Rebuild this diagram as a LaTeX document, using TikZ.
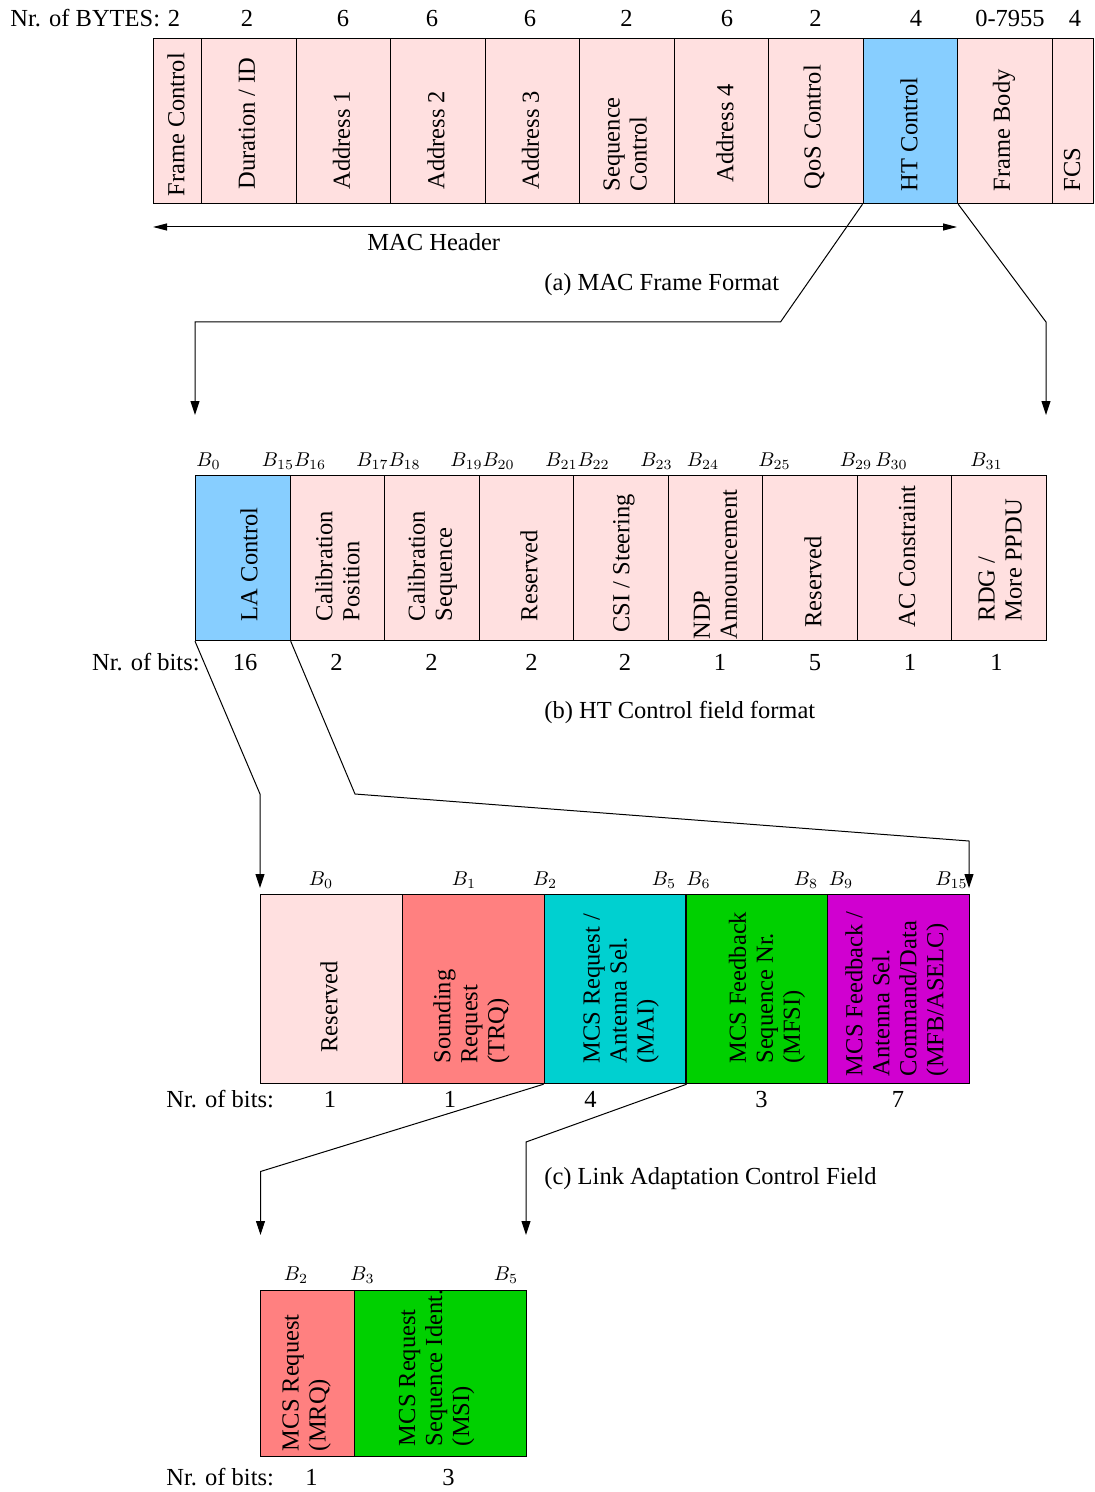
\documentclass[tikz,border=0pt]{standalone}
\usepackage[no-math]{fontspec}
\setmainfont{Liberation Serif}
\usetikzlibrary{arrows.meta}
\definecolor{pinkf}{RGB}{255,224,224}
\definecolor{ltblue}{RGB}{135,206,255}
\definecolor{pinkdark}{RGB}{255,128,128}
\definecolor{cyantwo}{RGB}{0,208,208}
\definecolor{greentwo}{RGB}{0,208,0}
\definecolor{magentatwo}{RGB}{208,0,208}
\newcommand{\mainsz}{\fontsize{12.25pt}{13.5pt}\selectfont}
\tikzset{
  field/.style={draw=black, line width=0.6pt, inner sep=0pt, anchor=north west, minimum height=82.5pt},
  vtext/.style={rotate=90, anchor=west, inner sep=0pt, align=left, font=\mainsz},
  lbl/.style={anchor=base, inner sep=0pt, font=\mainsz},
  blbl/.style={anchor=base west, inner sep=0pt, font=\fontsize{10pt}{12pt}\selectfont},
  conn/.style={line width=0.5pt},
  arrowline/.style={-{Triangle[length=7pt,width=4.5pt]}}
}
\begin{document}
\begin{tikzpicture}[x=0.5pt,y=-0.5pt]
\useasboundingbox (0,0) rectangle (1094,1492);

% ---------------- (a) MAC frame
\node[lbl, anchor=base west] (nb) at (10,27) {Nr. of BYTES:};
\node[lbl] (n1) at (174,27) {2};
\node[lbl] (n2) at (247,27) {2};
\node[lbl] (n3) at (343,27) {6};
\node[lbl] (n4) at (432,27) {6};
\node[lbl] (n5) at (530,27) {6};
\node[lbl] (n6) at (626.5,27) {2};
\node[lbl] (n7) at (727,27) {6};
\node[lbl] (n8) at (815.5,27) {2};
\node[lbl] (n9) at (916,27) {4};
\node[lbl] (n10) at (1010,27) {0-7955};
\node[lbl] (n11) at (1075,27) {4};

\node[field, fill=pinkf, minimum width=24pt] (fc) at (153,38) {};
\node[field, fill=pinkf, minimum width=47.25pt] (dur) at (201,38) {};
\node[field, fill=pinkf, minimum width=47.25pt] (ad1) at (295.5,38) {};
\node[field, fill=pinkf, minimum width=47.25pt] (ad2) at (390,38) {};
\node[field, fill=pinkf, minimum width=47.25pt] (ad3) at (484.5,38) {};
\node[field, fill=pinkf, minimum width=47.25pt] (seqc) at (579,38) {};
\node[field, fill=pinkf, minimum width=47.25pt] (ad4) at (673.5,38) {};
\node[field, fill=pinkf, minimum width=47.25pt] (qos) at (768,38) {};
\node[field, fill=ltblue, minimum width=47.25pt] (ht) at (862.5,38) {};
\node[field, fill=pinkf, minimum width=47.25pt] (fbody) at (957,38) {};
\node[field, fill=pinkf, minimum width=20.75pt] (fcs) at (1051.5,38) {};

\node[vtext] (tfc) at (176,197) {Frame Control};
\node[vtext] (tdur) at (247,190) {Duration / ID};
\node[vtext] (tad1) at (341.5,190) {Address 1};
\node[vtext] (tad2) at (436,190) {Address 2};
\node[vtext] (tad3) at (530.5,190) {Address 3};
\node[vtext] (tseqc) at (625,191.5) {Sequence\\Control};
\node[vtext] (tad4) at (725,183) {Address 4};
\node[vtext] (tqos) at (814,190) {QoS Control};
\node[vtext] (tht) at (909,191.5) {HT Control};
\node[vtext] (tfb) at (1004,191.5) {Frame Body};
\node[vtext] (tfcs) at (1072,191.5) {FCS};

\coordinate (mh1) at (153,227);
\coordinate (mh2) at (957,227);
\draw[conn, {Triangle[length=7pt,width=3.5pt]}-{Triangle[length=7pt,width=3.5pt]}] (mh1) -- (mh2);
\node[lbl, anchor=base west] (mach) at (367,251) {MAC Header};
\node[lbl, anchor=base west] (capa) at (544,291) {(a) MAC Frame Format};

\coordinate (ea) at (195,415);
\coordinate (eb) at (1046,415);
\draw[conn, arrowline] (ht.south west) -- (780.5,322) -- (195,322) -- (ea);
\draw[conn, arrowline] (ht.south east) -- (1046,322) -- (eb);

% ---------------- (b) HT control
\node[blbl] (b0) at (196,466) {$B_{0}$};
\node[blbl] (b15) at (261.5,466) {$B_{15}B_{16}$};
\node[blbl] (b17) at (356,466) {$B_{17}B_{18}$};
\node[blbl] (b19) at (450,466) {$B_{19}B_{20}$};
\node[blbl] (b21) at (545,466) {$B_{21}B_{22}$};
\node[blbl] (b23) at (640,466) {$B_{23}$};
\node[blbl] (b24) at (686.5,466) {$B_{24}$};
\node[blbl] (b25) at (758,466) {$B_{25}$};
\node[blbl] (b29) at (839.5,466) {$B_{29}$};
\node[blbl] (b30) at (875,466) {$B_{30}$};
\node[blbl] (b31) at (970,466) {$B_{31}$};

\node[field, fill=ltblue, minimum width=47.25pt] (la) at (195,475) {};
\node[field, fill=pinkf, minimum width=47.25pt] (cpos) at (289.5,475) {};
\node[field, fill=pinkf, minimum width=47.25pt] (cseq) at (384,475) {};
\node[field, fill=pinkf, minimum width=47.25pt] (resa) at (478.5,475) {};
\node[field, fill=pinkf, minimum width=47.25pt] (csi) at (573,475) {};
\node[field, fill=pinkf, minimum width=47.25pt] (ndp) at (667.5,475) {};
\node[field, fill=pinkf, minimum width=47.25pt] (resb) at (762,475) {};
\node[field, fill=pinkf, minimum width=47.25pt] (acc) at (856.5,475) {};
\node[field, fill=pinkf, minimum width=47.25pt] (rdg) at (951,475) {};

\node[vtext] (tla) at (249,621.5) {LA Control};
\node[vtext] (tcpos) at (337.5,621.5) {Calibration\\Position};
\node[vtext] (tcseq) at (432.5,621.5) {Calibration\\Sequence};
\node[vtext] (tresa) at (529,621.5) {Reserved};
\node[vtext] (tcsi) at (624,633) {CSI / Steering};
\node[vtext] (tndp) at (715.5,640) {NDP\\Announcement};
\node[vtext] (tresb) at (813,628) {Reserved};
\node[vtext] (tacc) at (907,628) {AC Constraint};
\node[vtext] (trdg) at (1000,621.5) {RDG /\\More PPDU};

\node[lbl, anchor=base east] (nbb) at (200,670) {Nr. of bits:};
\node[lbl] (m1) at (245,670) {16};
\node[lbl] (m2) at (336.5,670) {2};
\node[lbl] (m3) at (431.5,670) {2};
\node[lbl] (m4) at (531.5,670) {2};
\node[lbl] (m5) at (625,670) {2};
\node[lbl] (m6) at (720,670) {1};
\node[lbl] (m7) at (815,670) {5};
\node[lbl] (m8) at (910,670) {1};
\node[lbl] (m9) at (996.5,670) {1};

\node[lbl, anchor=base west] (capb) at (544,718) {(b) HT Control field format};

\coordinate (ec) at (260,888);
\coordinate (ed) at (969,888);
\draw[conn, arrowline] (la.south west) -- (260,794) -- (ec);
\draw[conn, arrowline] (la.south east) -- (355,794) -- (969,841) -- (ed);

% ---------------- (c) Link adaptation control
\node[blbl] (c0) at (308.5,885) {$B_{0}$};
\node[blbl] (c1) at (451.5,885) {$B_{1}$};
\node[blbl] (c2) at (532.5,885) {$B_{2}$};
\node[blbl] (c5) at (651.5,885) {$B_{5}$};
\node[blbl] (c6) at (686,885) {$B_{6}$};
\node[blbl] (c8) at (793.5,885) {$B_{8}$};
\node[blbl] (c9) at (828.5,885) {$B_{9}$};
\node[blbl] (c15) at (935,885) {$B_{15}$};

\node[field, fill=pinkf, minimum width=70.9pt, minimum height=94.5pt] (resc) at (260,894) {};
\node[field, fill=pinkdark, minimum width=70.9pt, minimum height=94.5pt] (trq) at (401.8,894) {};
\node[field, fill=cyantwo, minimum width=70.9pt, minimum height=94.5pt] (mai) at (543.6,894) {};
\node[field, fill=greentwo, minimum width=70.9pt, minimum height=94.5pt] (mfsi) at (685.4,894) {};
\node[field, fill=magentatwo, minimum width=70.9pt, minimum height=94.5pt] (mfb) at (827.2,894) {};

\node[vtext] (tresc) at (329,1053) {Reserved};
\node[vtext] (ttrq) at (471.5,1064) {Sounding\\Request\\(TRQ)};
\node[vtext] (tmai) at (621,1064) {MCS Request /\\Antenna Sel.\\(MAI)};
\node[vtext] (tmfsi) at (767,1064) {MCS Feedback\\Sequence Nr.\\(MFSI)};
\node[vtext] (tmfb) at (897,1076.5) {MCS Feedback /\\Antenna Sel.\\Command/Data\\(MFB/ASELC)};

\node[lbl, anchor=base west] (nbc) at (166,1107) {Nr. of bits:};
\node[lbl] (k1) at (330,1107) {1};
\node[lbl] (k2) at (450,1107) {1};
\node[lbl] (k3) at (590.5,1107) {4};
\node[lbl] (k4) at (761.5,1107) {3};
\node[lbl] (k5) at (898,1107) {7};

\node[lbl, anchor=base west] (capc) at (544,1184) {(c) Link Adaptation Control Field};

\coordinate (ee) at (260.5,1235);
\coordinate (ef) at (526,1235);
\draw[conn, arrowline] (mai.south west) -- (260.5,1171.5) -- (ee);
\draw[conn, arrowline] (mai.south east) -- (526,1142) -- (ef);

% ---------------- (d) MCS request
\node[blbl] (d2) at (283.5,1280) {$B_{2}$};
\node[blbl] (d3) at (350,1280) {$B_{3}$};
\node[blbl] (d5) at (493.5,1280) {$B_{5}$};

\node[field, fill=pinkdark, minimum width=47pt, minimum height=82.75pt] (mrq) at (260,1290) {};
\node[field, fill=greentwo, minimum width=86pt, minimum height=82.75pt] (msi) at (354,1290) {};

\node[vtext] (tmrq) at (306.5,1451.5) {MCS Request\\(MRQ)};
\node[vtext] (tmsi) at (436.5,1446.5) {MCS Request\\Sequence Ident.\\(MSI)};

\node[lbl, anchor=base west] (nbd) at (166,1485) {Nr. of bits:};
\node[lbl] (j1) at (311.5,1485) {1};
\node[lbl] (j2) at (448.5,1485) {3};
\end{tikzpicture}
\end{document}
